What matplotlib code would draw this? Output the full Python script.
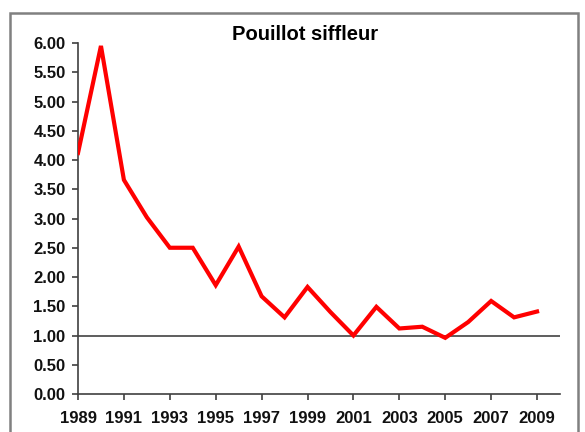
import matplotlib
matplotlib.use("Agg")
import matplotlib.pyplot as plt
from matplotlib.patches import Rectangle

plt.rcParams['font.family'] = ['Liberation Sans', 'DejaVu Sans']

# data
years = list(range(1989, 2010))
values = [4.12, 5.95, 3.66, 3.02, 2.50, 2.50, 1.86, 2.52, 1.67, 1.31, 1.83,
          1.40, 1.00, 1.49, 1.12, 1.15, 0.96, 1.23, 1.59, 1.31, 1.41]
title = "Pouillot siffleur"
xticks = list(range(1989, 2010, 2))
yticks = [i * 0.5 for i in range(13)]

fig = plt.figure(figsize=(5.85, 4.32), dpi=100)
ax = fig.add_axes([78 / 585, 1 - 394 / 432, (560 - 78) / 585, (394 - 43) / 432])

ax.plot(years, values, color='#ff0000', lw=3, solid_joinstyle='miter', zorder=3)
ax.axhline(1.0, color='#505050', lw=1.3, zorder=2)

ax.set_xlim(1989, 2010)
ax.set_ylim(0, 6)
ax.set_xticks(xticks)
ax.set_yticks(yticks)
ax.set_yticklabels([f"{v:.2f}" for v in yticks])

for s in ['top', 'right']:
    ax.spines[s].set_visible(False)
for s in ['left', 'bottom']:
    ax.spines[s].set_color('#404040')
    ax.spines[s].set_linewidth(1.2)

ax.tick_params(axis='both', direction='out', length=4, width=1.2, color='#404040',
               labelsize=12, labelcolor='#111111')
ax.tick_params(axis='x', pad=8)
ax.tick_params(axis='y', pad=5)
for lab in ax.get_xticklabels() + ax.get_yticklabels():
    lab.set_fontweight('bold')

fig.text(305 / 585, 1 - 35 / 432, title, ha='center', va='center',
         fontsize=14.5, fontweight='bold')

# outer chart border
fig.patches.append(Rectangle((10 / 585, -0.1), 568 / 585, 1.1 - 13 / 432,
                             transform=fig.transFigure, fill=False,
                             edgecolor='#808080', lw=1.8))

fig.savefig('out.png', dpi=100)
